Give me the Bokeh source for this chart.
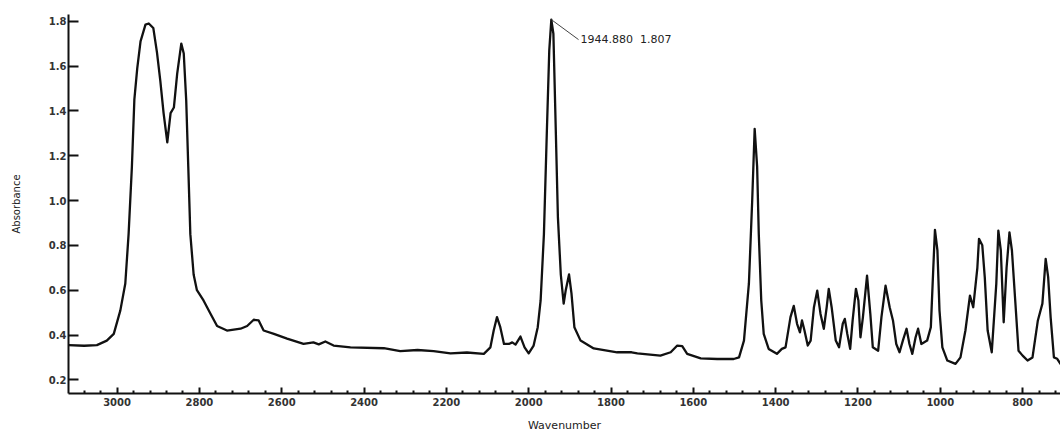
from bokeh.plotting import figure
from bokeh.models import Range1d, FixedTicker, Label, PrintfTickFormatter
from bokeh.embed import file_html
from bokeh.resources import INLINE

# ---- data ----
wavenumber = [3118, 3080, 3049, 3025, 3008, 2992, 2980, 2972, 2964, 2958, 2951, 2943,
              2931, 2923, 2912, 2903, 2895, 2887, 2878, 2870, 2862, 2854, 2844, 2838,
              2832, 2827, 2822, 2814, 2806, 2790, 2773, 2757, 2733, 2700, 2684, 2668,
              2656, 2644, 2619, 2587, 2547, 2523, 2510, 2494, 2474, 2433, 2352, 2312,
              2270, 2231, 2190, 2150, 2109, 2093, 2085, 2077, 2069, 2060, 2048, 2040,
              2032, 2020, 2010, 2000, 1988, 1978, 1971, 1963, 1956, 1950, 1945, 1940,
              1934, 1929, 1922, 1915, 1910, 1902, 1896, 1889, 1874, 1842, 1785, 1750,
              1736, 1680, 1655, 1639, 1627, 1615, 1582, 1542, 1502, 1489, 1477, 1465,
              1457, 1451, 1445, 1441, 1435, 1429, 1417, 1397, 1385, 1376, 1364, 1356,
              1348, 1341, 1336, 1330, 1322, 1315, 1307, 1299, 1291, 1283, 1276, 1271,
              1264, 1254, 1246, 1237, 1232, 1226, 1219, 1213, 1205, 1199, 1194, 1188,
              1178, 1170, 1164, 1151, 1143, 1133, 1123, 1115, 1107, 1099, 1091, 1082,
              1075, 1068, 1060, 1054, 1046, 1032, 1023, 1017, 1013, 1007, 1002, 995,
              983, 963, 951, 939, 928, 920, 910, 906, 898, 892, 885, 875,
              864, 859, 853, 846, 839, 832, 826, 818, 810, 800, 788, 776,
              763, 752, 744, 738, 732, 724, 716, 708, 700]
absorbance = [0.355, 0.352, 0.355, 0.375, 0.405, 0.51, 0.63, 0.85, 1.15, 1.45, 1.59, 1.71,
              1.785, 1.79, 1.77, 1.66, 1.535, 1.39, 1.26, 1.39, 1.415, 1.565, 1.70, 1.656,
              1.446, 1.15, 0.85, 0.67, 0.60, 0.554, 0.495, 0.44, 0.42, 0.428, 0.44, 0.468,
              0.465, 0.42, 0.405, 0.384, 0.36, 0.367, 0.358, 0.371, 0.353, 0.345, 0.341, 0.328,
              0.333, 0.328, 0.318, 0.322, 0.316, 0.345, 0.42, 0.48, 0.435, 0.36, 0.36, 0.367,
              0.357, 0.393, 0.345, 0.318, 0.353, 0.435, 0.554, 0.85, 1.30, 1.67, 1.807, 1.745,
              1.30, 0.925, 0.67, 0.54, 0.60, 0.67, 0.585, 0.435, 0.375, 0.34, 0.323, 0.323,
              0.318, 0.308, 0.323, 0.353, 0.35, 0.316, 0.296, 0.293, 0.293, 0.30, 0.375, 0.63,
              1.0, 1.32, 1.15, 0.85, 0.554, 0.405, 0.338, 0.316, 0.338, 0.345, 0.48, 0.53,
              0.45, 0.412, 0.465, 0.42, 0.353, 0.375, 0.524, 0.598, 0.494, 0.428, 0.524, 0.606,
              0.524, 0.375, 0.345, 0.45, 0.472, 0.405, 0.338, 0.465, 0.606, 0.554, 0.39, 0.48,
              0.665, 0.494, 0.345, 0.33, 0.48, 0.62, 0.524, 0.465, 0.36, 0.323, 0.375, 0.428,
              0.36, 0.316, 0.39, 0.428, 0.36, 0.375, 0.435, 0.70, 0.869, 0.777, 0.51, 0.345,
              0.286, 0.271, 0.30, 0.42, 0.576, 0.524, 0.70, 0.829, 0.80, 0.658, 0.42, 0.323,
              0.628, 0.866, 0.777, 0.457, 0.70, 0.858, 0.777, 0.554, 0.33, 0.308, 0.286, 0.30,
              0.465, 0.54, 0.74, 0.658, 0.48, 0.30, 0.294, 0.271, 0.265]

x_tick_values = [3000, 2800, 2600, 2400, 2200, 2000, 1800, 1600, 1400, 1200, 1000, 800]
x_minor_values = [3080, 3040, 2960, 2920, 2880, 2840, 2760, 2720, 2680, 2640, 2560, 2520,
                  2480, 2440, 2360, 2320, 2280, 2240, 2160, 2120, 2080, 2040, 1960, 1920,
                  1880, 1840, 1760, 1720, 1680, 1640, 1560, 1520, 1480, 1440, 1360, 1320,
                  1280, 1240, 1160, 1120, 1080, 1040, 960, 920, 880, 840, 760, 720]
y_tick_values = [0.2, 0.4, 0.6, 0.8, 1.0, 1.2, 1.4, 1.6, 1.8]

peak_wn = 1944.880
peak_abs = 1.807
peak_text = "1944.880\u00a0 1.807"

x_label = "Wavenumber"
y_label = "Absorbance"

# ---- figure ----
p = figure(width=1060, height=434, output_backend="svg", toolbar_location=None,
           x_range=Range1d(3118, 708), y_range=Range1d(0.139, 1.830),
           min_border_left=68, min_border_right=0, min_border_top=14, min_border_bottom=41,
           background_fill_color="white", border_fill_color="white")
p.outline_line_color = None
p.xgrid.grid_line_color = None
p.ygrid.grid_line_color = None

p.line(wavenumber, absorbance, line_width=2.3, line_color="#111111", line_join="round")

# peak annotation
dx, dy = -66, -0.089
p.segment(x0=[peak_wn], y0=[peak_abs], x1=[peak_wn + dx], y1=[peak_abs + dy],
          line_color="#444444", line_width=1)
p.add_layout(Label(x=peak_wn + dx, y=peak_abs + dy, x_offset=2, text=peak_text,
                   text_font="DejaVu Sans", text_font_size="11px",
                   text_baseline="middle", text_color="#222222"))

# x axis
xa = p.xaxis[0]
xa.ticker = FixedTicker(ticks=x_tick_values, minor_ticks=x_minor_values)
xa.axis_label = x_label
xa.axis_label_text_font = "DejaVu Sans"
xa.axis_label_text_font_size = "11px"
xa.axis_label_text_font_style = "normal"
xa.axis_label_text_color = "#222222"
xa.axis_label_standoff = 10
xa.major_label_text_font = "DejaVu Sans"
xa.major_label_text_font_size = "10px"
xa.major_label_text_font_style = "bold"
xa.major_label_text_color = "#333333"
xa.major_label_standoff = 4
xa.axis_line_width = 2
xa.axis_line_color = "#111111"
xa.major_tick_in = 6
xa.major_tick_out = 0
xa.major_tick_line_width = 2
xa.major_tick_line_color = "#111111"
xa.minor_tick_in = 3
xa.minor_tick_out = 0
xa.minor_tick_line_width = 2
xa.minor_tick_line_color = "#111111"

# y axis
ya = p.yaxis[0]
ya.ticker = FixedTicker(ticks=y_tick_values)
ya.formatter = PrintfTickFormatter(format="%.1f")
ya.axis_label = y_label
ya.axis_label_text_font = "DejaVu Sans"
ya.axis_label_text_font_size = "10px"
ya.axis_label_text_font_style = "normal"
ya.axis_label_text_color = "#222222"
ya.axis_label_standoff = 24
ya.major_label_text_font = "DejaVu Sans"
ya.major_label_text_font_size = "10px"
ya.major_label_text_font_style = "bold"
ya.major_label_text_color = "#333333"
ya.major_label_standoff = 2
ya.axis_line_width = 2
ya.axis_line_color = "#111111"
ya.major_tick_in = 10
ya.major_tick_out = 0
ya.major_tick_line_width = 2
ya.major_tick_line_color = "#111111"
ya.minor_tick_line_color = None

open("out.html", "w").write(file_html(p, INLINE))
